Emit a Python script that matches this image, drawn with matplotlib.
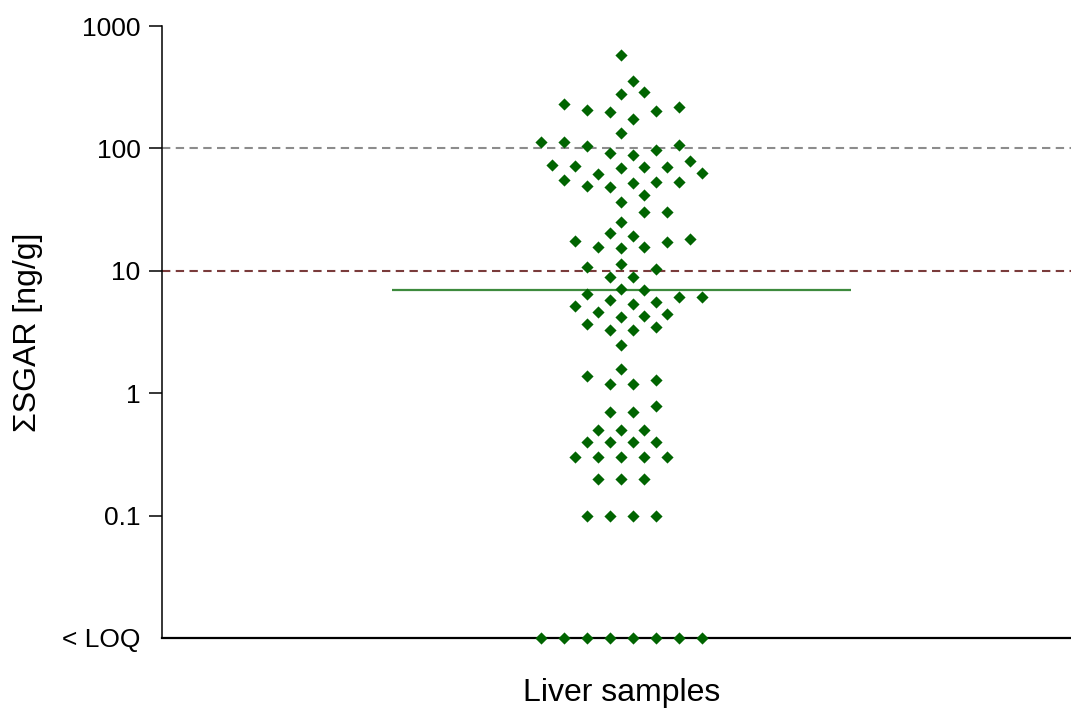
#!/usr/bin/env python3
"""
Scatter (beeswarm) of summed SGAR residues in liver samples, log scale,
with samples below the limit of quantification drawn on the x axis.
"""

import matplotlib
matplotlib.use("Agg")
import matplotlib.pyplot as plt
import numpy as np

OUT_PATH = "out.png"

# (ng/g)
sgar_values = [
    580, 356, 287, 278, 231, 219, 206, 202, 197, 174,
    133, 113, 113, 107, 105, 97, 92, 88, 79, 73,
    71.7, 70.8, 70, 68.7, 62.6, 61.8, 55.2, 53.5, 52.8, 52.5,
    49.6, 48.6, 41.6, 36.7, 30, 30, 25.2, 20.2, 19.4, 18.1,
    17.5, 17.1, 15.7, 15.6, 15.3, 11.3, 10.8, 10.3, 8.85, 8.85,
    7.1, 6.96, 6.46, 6.07, 6.07, 5.77, 5.6, 5.36, 5.16, 4.58,
    4.43, 4.30, 4.17, 3.66, 3.45, 3.28, 3.28, 2.48, 1.58, 1.39,
    1.28, 1.19, 1.19, 0.79, 0.70, 0.70, 0.5, 0.5, 0.5, 0.4,
    0.4, 0.4, 0.4, 0.3, 0.3, 0.3, 0.3, 0.3, 0.2, 0.2,
    0.2, 0.1, 0.1, 0.1, 0.1,
]
n_below_loq = 8
loq_position = 0.01

y_ticks = [0.01, 0.1, 1, 10, 100, 1000]
y_tick_labels = ["< LOQ", "0.1", "1", "10", "100", "1000"]
threshold_lines = [100, 10]
threshold_colors = ["#8c8c8c", "#7a3b3b"]

group_label = "Liver samples"
y_label = "ΣSGAR [ng/g]"

POINT_COLOR = "#006400"
MEDIAN_COLOR = "#3d8a3d"

plt.rcParams["font.family"] = ["Liberation Sans", "DejaVu Sans"]


def collides(xs, y, placed_x, placed_y, step):
    for px, py in zip(placed_x, placed_y):
        d = np.abs(xs - px)
        dy = abs(py - y)
        # same column needs more room than a half-step neighbour
        if np.any(d < 0.5 * step) and dy < 15.5:
            return True
        if np.any(d < 1.9 * step) and dy < 11.0:
            return True
    return False


def swarm_offsets(values, ypix, step=11.5):
    """Prism-like swarm: equal values sit in a centred row, others are
    pushed sideways on a half-step grid until they stop overlapping."""
    values = np.asarray(values)
    offsets = np.zeros(len(values))
    placed_x, placed_y = [], []
    ks = [0]
    for k in range(1, 40):
        ks += [k, -k]

    for v in sorted(set(values.tolist())):
        idx = np.flatnonzero(values == v)
        n = len(idx)
        y = ypix[idx[0]]
        base = (np.arange(n) - (n - 1) / 2) * 2 * step
        for k in ks:
            xs = base + k * step
            if not collides(xs, y, placed_x, placed_y, step):
                break
        offsets[idx] = xs
        placed_x += list(xs)
        placed_y += [y] * n
    return offsets


def main() -> None:
    fig = plt.figure(figsize=(10.71, 7.08), dpi=100)
    ax = fig.add_axes([162 / 1071, 70 / 708, 909 / 1071, 612 / 708])

    ax.set_yscale("log")
    ax.set_ylim(0.01, 1000)
    ax.set_xlim(-0.5055, 0.4945)

    all_values = np.array(sgar_values + [loq_position] * n_below_loq, dtype=float)
    median = np.median(np.concatenate([sgar_values, np.zeros(n_below_loq)]))

    # swarm layout in screen pixels, then back to data units
    ypix = ax.transData.transform(np.column_stack([np.zeros(len(all_values)), all_values]))[:, 1]
    px_per_unit = ax.transData.transform((1, 1))[0] - ax.transData.transform((0, 1))[0]
    offsets = swarm_offsets(all_values, ypix) / px_per_unit

    for level, color in zip(threshold_lines, threshold_colors):
        ax.axhline(level, color=color, linewidth=1.5, linestyle=(0, (4, 2.6)), zorder=1)

    ax.hlines(median, -0.252, 0.252, color=MEDIAN_COLOR, linewidth=1.6, zorder=2)

    ax.scatter(offsets, all_values, marker="D", s=6.2 ** 2, color=POINT_COLOR,
               linewidths=0, zorder=4, clip_on=False)

    ax.set_yticks(y_ticks)
    ax.set_yticklabels(y_tick_labels)
    ax.yaxis.set_minor_locator(matplotlib.ticker.NullLocator())
    ax.tick_params(axis="y", length=9.5, width=1.1, pad=6, labelsize=19)
    ax.yaxis.get_major_ticks()[0].tick1line.set_visible(False)

    ax.set_xticks([0])
    ax.set_xticklabels([group_label])
    ax.tick_params(axis="x", length=0, pad=29, labelsize=23)

    ax.set_ylabel(y_label, fontsize=23)
    ax.yaxis.set_label_coords(-0.131, 0.5)

    for side in ["top", "right"]:
        ax.spines[side].set_visible(False)
    ax.spines["left"].set_linewidth(1.1)
    ax.spines["bottom"].set_linewidth(1.6)

    fig.savefig(OUT_PATH, dpi=100)
    plt.close(fig)


if __name__ == "__main__":
    main()
